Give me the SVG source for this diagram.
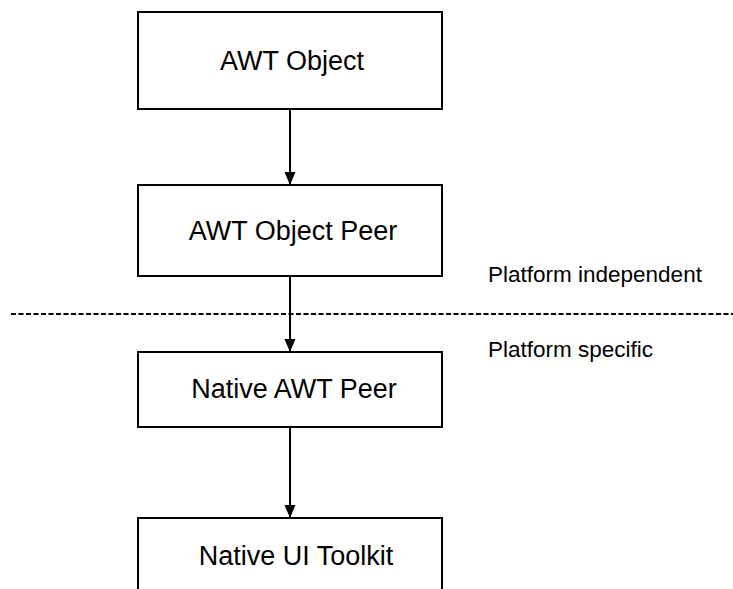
<svg xmlns="http://www.w3.org/2000/svg" width="733" height="589" viewBox="0 0 733 589">
  <defs>
    <marker id="arrowhead" markerWidth="11" markerHeight="13" refX="13" refY="5.5" orient="auto" markerUnits="userSpaceOnUse">
      <path d="M0,0 L13,5.5 L0,11 Z" fill="#000"/>
    </marker>
    <style>
      .box { fill: #fff; stroke: #000; stroke-width: 2; }
      .label { font-family: "Liberation Sans", Arial, sans-serif; font-size: 27px; fill: #000; text-anchor: middle; }
      .note { font-family: "Liberation Sans", Arial, sans-serif; font-size: 22.5px; fill: #000; }
      .link { stroke: #000; stroke-width: 2; fill: none; marker-end: url(#arrowhead); }
      .divider { stroke: #000; stroke-width: 2; stroke-dasharray: 5 2.5; fill: none; }
    </style>
  </defs>
  <rect width="733" height="589" fill="#fff"/>

  <!-- boundary between the portable and the native layers -->
  <g id="boundary">
    <line class="divider" x1="11" y1="314" x2="733" y2="314"/>
    <text class="note" x="488" y="282">Platform independent</text>
    <text class="note" x="488" y="357">Platform specific</text>
  </g>

  <g id="connectors">
    <line class="link" x1="290" y1="109" x2="290" y2="185"/>
    <line class="link" x1="290" y1="276" x2="290" y2="352"/>
    <line class="link" x1="290" y1="427" x2="290" y2="518"/>
  </g>

  <g id="awt-object">
    <rect class="box" x="138" y="12" width="304" height="97"/>
    <text class="label" x="292" y="70">AWT Object</text>
  </g>

  <g id="awt-object-peer">
    <rect class="box" x="138" y="185" width="304" height="91"/>
    <text class="label" x="293" y="240">AWT Object Peer</text>
  </g>

  <g id="native-awt-peer">
    <rect class="box" x="138" y="352" width="304" height="75"/>
    <text class="label" x="294" y="398">Native AWT Peer</text>
  </g>

  <g id="native-ui-toolkit">
    <rect class="box" x="138" y="518" width="304" height="90"/>
    <text class="label" x="296" y="565">Native UI Toolkit</text>
  </g>
</svg>
